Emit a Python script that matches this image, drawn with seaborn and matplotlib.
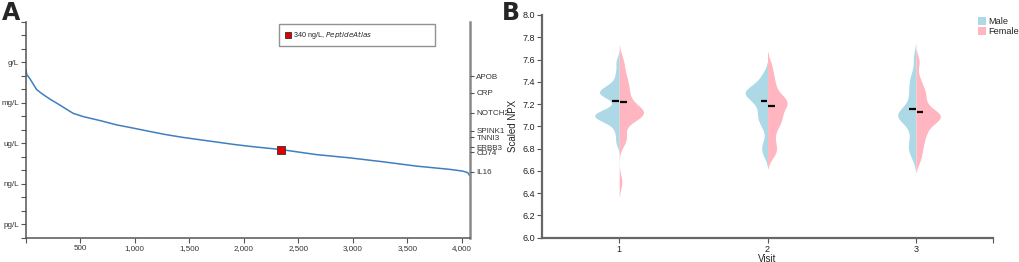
import matplotlib
matplotlib.use("Agg")
import matplotlib.pyplot as plt
import matplotlib.ticker as mticker
import seaborn as sns
import pandas as pd
import numpy as np

# ---- panel A: proteins ranked by plasma concentration (log10 g/L)
rank = [1, 9, 39, 100, 146, 223, 314, 375, 436, 527, 680, 833, 985, 1138,
        1291, 1443, 1596, 1749, 1901, 2054, 2344, 2665, 2970, 3275, 3581,
        3886, 4007, 4053, 4075]
log_conc = [-0.48, -0.90, -1.22, -2.02, -2.31, -2.73, -3.17, -3.48, -3.78,
            -4.02, -4.31, -4.63, -4.87, -5.12, -5.36, -5.56, -5.73, -5.90,
            -6.07, -6.22, -6.46, -6.83, -7.07, -7.36, -7.68, -7.92, -8.05,
            -8.16, -8.41]
unit_labels = ["pg/L", "ng/L", "ug/L", "mg/L", "g/L"]
unit_pos = [-12, -9, -6, -3, 0]
genes = ["APOB", "CRP", "NOTCH2", "SPINK1", "TNNI3", "ERBB3", "CD74", "IL16"]
gene_pos = [-1.02, -2.25, -3.75, -5.07, -5.56, -6.29, -6.66, -8.10]
marker_rank = 2344
marker_ng = 340
x_ticks_a = [500, 1000, 1500, 2000, 2500, 3000, 3500, 4000]

# ---- panel B: scaled NPX per visit and sex
visits = ["1", "2", "3"]
male = {
    "1": [7.58, 7.48, 7.40, 7.36, 7.33, 7.32, 7.31, 7.30, 7.29, 7.28, 7.26,
          7.17, 7.13, 7.12, 7.11, 7.10, 7.10, 7.09, 7.08, 7.07, 7.05, 7.02,
          6.95, 6.86],
    "2": [7.47, 7.42, 7.38, 7.35, 7.33, 7.32, 7.31, 7.30, 7.29, 7.28, 7.26,
          7.24, 7.21, 7.18, 7.14, 7.10, 7.07, 7.04, 6.98, 6.86, 6.80, 6.75],
    "3": [7.62, 7.48, 7.42, 7.37, 7.32, 7.27, 7.22, 7.17, 7.14, 7.12, 7.11,
          7.10, 7.09, 7.08, 7.06, 7.03, 6.98, 6.92, 6.85, 6.82, 6.78, 6.72],
}
female = {
    "1": [7.60, 7.52, 7.45, 7.40, 7.36, 7.32, 7.28, 7.24, 7.20, 7.17, 7.15,
          7.14, 7.13, 7.12, 7.11, 7.10, 7.09, 7.07, 7.04, 6.93, 6.90, 6.85,
          6.50],
    "2": [7.55, 7.46, 7.40, 7.34, 7.29, 7.25, 7.23, 7.22, 7.21, 7.19, 7.16,
          7.12, 7.09, 7.06, 7.04, 7.00, 6.95, 6.88, 6.82, 6.78, 6.74],
    "3": [7.58, 7.42, 7.34, 7.30, 7.26, 7.21, 7.16, 7.13, 7.11, 7.10, 7.09,
          7.08, 7.07, 7.05, 7.02, 6.98, 6.94, 6.90, 6.84, 6.78, 6.70],
}
male_mean = [7.23, 7.23, 7.16]
female_mean = [7.22, 7.185, 7.13]

rows = []
for v in visits:
    rows += [(v, "Male", val) for val in male[v]]
    rows += [(v, "Female", val) for val in female[v]]
df = pd.DataFrame(rows, columns=["Visit", "Sex", "NPX"])

sns.set_style("white")
plt.rcParams["font.family"] = ["Liberation Sans", "DejaVu Sans"]

fig = plt.figure(figsize=(10.2, 2.62), dpi=100)
axA = fig.add_axes([0.0252, 0.0916, 0.4356, 0.8256])
axB = fig.add_axes([0.5314, 0.0928, 0.4422, 0.85])

# ---------------- panel A
sns.lineplot(x=rank, y=log_conc, ax=axA, color="#3f7fbf", linewidth=1.1)
axA.scatter([marker_rank], [np.log10(marker_ng * 1e-9)], marker="s", s=26,
            color="#e00000", edgecolor="#333333", linewidth=0.6, zorder=5,
            label="340 ng/L, $\\it{PeptideAtlas}$")
axA.set_xlim(0, 4075)
axA.set_ylim(-13, 3)
axA.set_xticks([0] + x_ticks_a)
axA.set_xticklabels([""] + [f"{t:,}" for t in x_ticks_a])
axA.set_yticks(unit_pos)
axA.set_yticklabels(unit_labels)
axA.yaxis.set_minor_locator(mticker.FixedLocator(range(-13, 4)))
axA.tick_params(axis="both", which="both", direction="out", length=3.5,
                width=0.8, color="#555555", labelsize=5.8, labelcolor="#333333",
                pad=1.5)
axA.tick_params(axis="y", which="both", left=True)
axA.tick_params(axis="x", bottom=True)
for s in ["left", "bottom"]:
    axA.spines[s].set_color("#555555")
    axA.spines[s].set_linewidth(1.1)
axA.spines["top"].set_visible(False)
axA.spines["right"].set_color("#8a8a8a")
axA.spines["right"].set_linewidth(1.8)

axA2 = axA.twinx()
axA2.set_ylim(-13, 3)
axA2.set_yticks(gene_pos)
axA2.set_yticklabels(genes)
axA2.tick_params(axis="y", right=True, direction="out", length=3, width=0.8,
                 color="#555555", labelsize=5.8, labelcolor="#333333", pad=1.5)
for s in axA2.spines.values():
    s.set_visible(False)

axA.legend(loc="upper left", bbox_to_anchor=(0.563, 0.905, 0.367, 0.103),
           mode="expand", fontsize=5.2, frameon=True, fancybox=False,
           edgecolor="#777777", handletextpad=0.2, borderpad=0.7,
           handlelength=1.0, markerscale=0.8)
fig.text(0.002, 0.995, "A", fontsize=17, fontweight="bold", va="top",
         family="DejaVu Sans")

# ---------------- panel B
pal = {"Male": "#add8e6", "Female": "#ffb6c1"}
sns.violinplot(data=df, x="Visit", y="NPX", hue="Sex", split=True, inner=None,
               palette=pal, linewidth=0, width=0.33, density_norm="area",
               bw_adjust=0.5, ax=axB, saturation=1, legend=True)
for i in range(len(visits)):
    axB.hlines(male_mean[i], i - 0.047, i - 0.002, color="black", lw=1.6)
    axB.hlines(female_mean[i], i + 0.004, i + 0.05, color="black", lw=1.6)

axB.set_xlim(-0.52, 2.52)
axB.set_ylim(6.0, 8.0)
axB.set_yticks(np.round(np.arange(6.0, 8.01, 0.2), 1))
axB.yaxis.set_major_formatter(mticker.FormatStrFormatter("%.1f"))
axB.set_xticks([0, 1, 2])
axB.set_xticklabels(visits)
axB.xaxis.set_minor_locator(mticker.FixedLocator([2.52]))
axB.tick_params(axis="both", which="both", direction="out", length=3.5,
                width=0.8, color="#555555", labelsize=6.5, labelcolor="#222222",
                pad=1.5, left=True, bottom=True)
axB.set_xlabel("Visit", fontsize=7, labelpad=0)
axB.set_ylabel("Scaled NPX", fontsize=7, labelpad=3)
for s in ["left", "bottom"]:
    axB.spines[s].set_color("#666666")
    axB.spines[s].set_linewidth(1.6)
axB.spines["top"].set_visible(False)
axB.spines["right"].set_visible(False)

h, l = axB.get_legend_handles_labels()
axB.legend(h, l, loc="upper left", bbox_to_anchor=(0.966, 0.99), frameon=False,
           fontsize=6.6, handlelength=0.9, handleheight=0.9, handletextpad=0.2,
           labelspacing=0.1, borderaxespad=0, borderpad=0)
fig.text(0.492, 0.995, "B", fontsize=17, fontweight="bold", va="top",
         family="DejaVu Sans")

fig.savefig("out.png", dpi=100)
